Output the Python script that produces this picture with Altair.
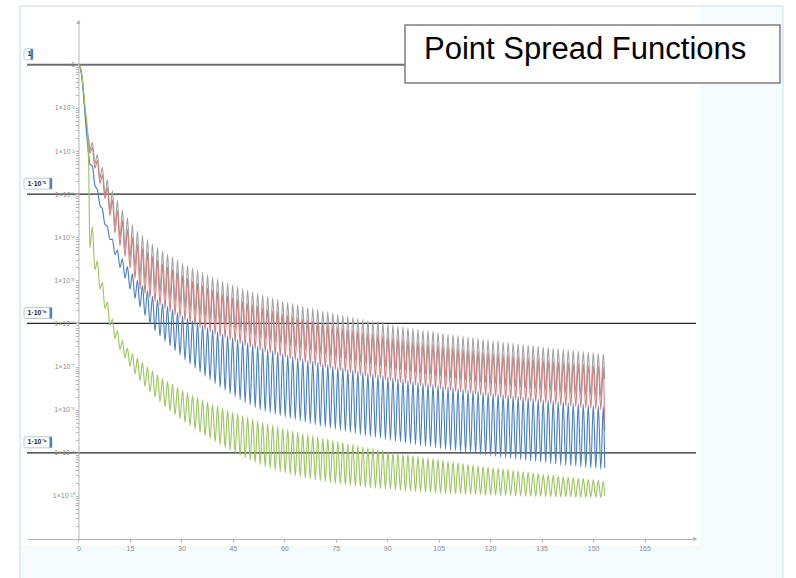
import altair as alt
import pandas as pd

# ---------------------------------------------------------------- data
# Oscillation grid: first side-lobe maximum and the ring spacing (x units)
FIRST_PEAK = 2.6
PERIOD = 1.46
END_X = 153.4

# Main-lobe samples shared by every curve (x), values as log10(intensity)
HEAD_X = [0.0, 0.5, 1.0, 1.5, 2.0, 2.6, 3.0]

GRAY_HEAD = [0.0, -0.06, -0.28, -0.68, -1.15, -1.55, -1.72]
RED_HEAD = [0.0, -0.06, -0.28, -0.68, -1.17, -1.62, -1.82]
BLUE_HEAD = [0.0, -0.06, -0.28, -0.70, -1.22, -1.80, -2.10]
GREEN_HEAD = [0.0, -0.05, -0.24, -0.62, -1.05, -1.50, -2.40]

# log10 minima between rings k and k+1
GRAY_TROUGH = [
    -1.98, -2.29, -2.63, -3.02, -3.39, -3.74, -4.01, -4.26, -4.48, -4.69,
    -4.91, -5.01, -5.11, -5.20, -5.28, -5.36, -5.43, -5.50, -5.56, -5.63,
    -5.69, -5.75, -5.80, -5.85, -5.90, -5.95, -6.00, -6.04, -6.09, -6.13,
    -6.17, -6.21, -6.25, -6.29, -6.32, -6.36, -6.39, -6.43, -6.46, -6.49,
    -6.52, -6.55, -6.58, -6.61, -6.64, -6.67, -6.70, -6.72, -6.75, -6.77,
    -6.80, -6.82, -6.85, -6.87, -6.90, -6.92, -6.94, -6.96, -6.98, -7.01,
    -7.03, -7.05, -7.07, -7.09, -7.11, -7.13, -7.15, -7.17, -7.18, -7.20,
    -7.22, -7.24, -7.26, -7.27, -7.29, -7.31, -7.32, -7.34, -7.36, -7.37,
    -7.39, -7.40, -7.42, -7.44, -7.45, -7.47, -7.48, -7.50, -7.51, -7.52,
    -7.54, -7.55, -7.57, -7.58, -7.60, -7.61, -7.62, -7.63, -7.65, -7.66,
    -7.67, -7.68, -7.70,
]
# log10 maxima of rings 1..103
GRAY_PEAK = [
    -1.80, -2.08, -2.38, -2.66, -2.92, -3.15, -3.37, -3.55, -3.71,
    -3.86, -3.96, -4.06, -4.15, -4.24, -4.32, -4.39, -4.46, -4.53, -4.60,
    -4.66, -4.72, -4.77, -4.82, -4.88, -4.93, -4.97, -5.02, -5.06, -5.11,
    -5.15, -5.19, -5.23, -5.27, -5.30, -5.34, -5.38, -5.41, -5.44, -5.48,
    -5.51, -5.54, -5.57, -5.60, -5.63, -5.65, -5.68, -5.71, -5.73, -5.76,
    -5.79, -5.81, -5.84, -5.86, -5.88, -5.91, -5.93, -5.95, -5.97, -5.99,
    -6.02, -6.04, -6.06, -6.08, -6.10, -6.12, -6.14, -6.16, -6.17, -6.19,
    -6.21, -6.23, -6.25, -6.26, -6.28, -6.30, -6.32, -6.33, -6.35, -6.37,
    -6.38, -6.40, -6.41, -6.43, -6.44, -6.46, -6.47, -6.49, -6.50, -6.52,
    -6.53, -6.55, -6.56, -6.57, -6.59, -6.60, -6.62, -6.63, -6.64, -6.65,
    -6.67, -6.68, -6.69, -6.71,
]

RED_TROUGH = [
    -2.05, -2.40, -2.75, -3.10, -3.50, -3.90, -4.20, -4.45, -4.72, -4.95,
    -5.21, -5.31, -5.41, -5.50, -5.58, -5.66, -5.73, -5.80, -5.86, -5.93,
    -5.99, -6.05, -6.10, -6.15, -6.20, -6.25, -6.30, -6.34, -6.39, -6.43,
    -6.47, -6.51, -6.55, -6.59, -6.62, -6.66, -6.69, -6.73, -6.76, -6.79,
    -6.82, -6.85, -6.88, -6.91, -6.94, -6.97, -7.00, -7.02, -7.05, -7.07,
    -7.10, -7.12, -7.15, -7.17, -7.20, -7.22, -7.24, -7.26, -7.28, -7.31,
    -7.33, -7.35, -7.37, -7.39, -7.41, -7.43, -7.45, -7.47, -7.48, -7.50,
    -7.52, -7.54, -7.56, -7.57, -7.59, -7.61, -7.62, -7.64, -7.66, -7.67,
    -7.69, -7.70, -7.72, -7.74, -7.75, -7.77, -7.78, -7.80, -7.81, -7.82,
    -7.84, -7.85, -7.87, -7.88, -7.90, -7.91, -7.92, -7.93, -7.95, -7.96,
    -7.97, -7.98, -8.00,
]
RED_PEAK = [
    -1.92, -2.22, -2.55, -2.85, -3.13, -3.38, -3.62, -3.82, -4.00,
    -4.16, -4.26, -4.36, -4.45, -4.54, -4.62, -4.69, -4.76, -4.83, -4.90,
    -4.96, -5.02, -5.07, -5.12, -5.18, -5.23, -5.27, -5.32, -5.36, -5.41,
    -5.45, -5.49, -5.53, -5.57, -5.60, -5.64, -5.68, -5.71, -5.74, -5.78,
    -5.81, -5.84, -5.87, -5.90, -5.93, -5.95, -5.98, -6.01, -6.03, -6.06,
    -6.09, -6.11, -6.14, -6.16, -6.18, -6.21, -6.23, -6.25, -6.27, -6.29,
    -6.32, -6.34, -6.36, -6.38, -6.40, -6.42, -6.44, -6.46, -6.47, -6.49,
    -6.51, -6.53, -6.55, -6.56, -6.58, -6.60, -6.62, -6.63, -6.65, -6.67,
    -6.68, -6.70, -6.71, -6.73, -6.74, -6.76, -6.77, -6.79, -6.80, -6.82,
    -6.83, -6.85, -6.86, -6.87, -6.89, -6.90, -6.92, -6.93, -6.94, -6.95,
    -6.97, -6.98, -6.99, -7.01,
]

BLUE_TROUGH = [
    -2.30, -2.80, -3.25, -3.70, -4.05, -4.40, -4.70, -4.95, -5.20, -5.42,
    -5.62, -5.82, -6.02, -6.17, -6.29, -6.41, -6.52, -6.63, -6.73, -6.84,
    -6.94, -7.04, -7.13, -7.22, -7.31, -7.40, -7.48, -7.55, -7.63, -7.70,
    -7.77, -7.83, -7.89, -7.95, -8.00, -8.04, -8.07, -8.11, -8.14, -8.17,
    -8.20, -8.23, -8.26, -8.29, -8.32, -8.35, -8.38, -8.40, -8.43, -8.45,
    -8.48, -8.50, -8.53, -8.55, -8.58, -8.60, -8.62, -8.64, -8.66, -8.69,
    -8.71, -8.73, -8.75, -8.77, -8.79, -8.81, -8.83, -8.85, -8.86, -8.88,
    -8.90, -8.92, -8.94, -8.95, -8.97, -8.99, -9.00, -9.02, -9.04, -9.05,
    -9.07, -9.08, -9.10, -9.12, -9.13, -9.15, -9.16, -9.18, -9.19, -9.20,
    -9.22, -9.23, -9.25, -9.26, -9.28, -9.29, -9.30, -9.31, -9.33, -9.34,
    -9.35, -9.36, -9.38,
]
BLUE_PEAK = [
    -2.35, -2.90, -3.35, -3.75, -4.05, -4.30, -4.50, -4.68, -4.85,
    -5.00, -5.12, -5.24, -5.37, -5.46, -5.54, -5.61, -5.68, -5.75, -5.82,
    -5.88, -5.94, -5.99, -6.04, -6.10, -6.15, -6.19, -6.24, -6.28, -6.33,
    -6.37, -6.41, -6.45, -6.49, -6.52, -6.56, -6.60, -6.63, -6.66, -6.70,
    -6.73, -6.76, -6.79, -6.82, -6.85, -6.87, -6.90, -6.93, -6.95, -6.98,
    -7.01, -7.03, -7.06, -7.08, -7.10, -7.13, -7.15, -7.17, -7.19, -7.21,
    -7.24, -7.26, -7.28, -7.30, -7.32, -7.34, -7.36, -7.38, -7.39, -7.41,
    -7.43, -7.45, -7.47, -7.48, -7.50, -7.52, -7.54, -7.55, -7.57, -7.59,
    -7.60, -7.62, -7.63, -7.65, -7.66, -7.68, -7.69, -7.71, -7.72, -7.74,
    -7.75, -7.77, -7.78, -7.79, -7.81, -7.82, -7.84, -7.85, -7.86, -7.87,
    -7.89, -7.90, -7.91, -7.93,
]

GREEN_TROUGH = [
    -4.25, -4.75, -5.20, -5.65, -6.05, -6.35, -6.60, -6.80, -7.00, -7.17,
    -7.32, -7.46, -7.59, -7.71, -7.82, -7.93, -8.03, -8.12, -8.21, -8.29,
    -8.37, -8.45, -8.53, -8.60, -8.67, -8.74, -8.81, -8.88, -8.94, -9.00,
    -9.06, -9.12, -9.17, -9.22, -9.27, -9.32, -9.36, -9.40, -9.44, -9.47,
    -9.50, -9.53, -9.56, -9.59, -9.61, -9.63, -9.65, -9.67, -9.69, -9.71,
    -9.73, -9.74, -9.76, -9.77, -9.78, -9.80, -9.81, -9.82, -9.83, -9.84,
    -9.85, -9.86, -9.87, -9.88, -9.89, -9.90, -9.90, -9.91, -9.92, -9.93,
    -9.93, -9.94, -9.94, -9.95, -9.95, -9.96, -9.96, -9.97, -9.97, -9.98,
    -9.98, -9.98, -9.99, -9.99, -9.99, -10.00, -10.00, -10.00, -10.01, -10.01,
    -10.01, -10.01, -10.02, -10.02, -10.02, -10.02, -10.02, -10.03, -10.03, -10.03,
    -10.03, -10.03, -10.04,
]
GREEN_PEAK = [
    -3.76, -4.55, -5.05, -5.50, -5.90, -6.17, -6.40, -6.57, -6.70,
    -6.81, -6.91, -7.01, -7.10, -7.19, -7.27, -7.34, -7.41, -7.48, -7.55,
    -7.61, -7.67, -7.72, -7.77, -7.83, -7.88, -7.92, -7.97, -8.01, -8.06,
    -8.10, -8.14, -8.18, -8.22, -8.25, -8.29, -8.33, -8.36, -8.39, -8.43,
    -8.46, -8.49, -8.52, -8.55, -8.58, -8.60, -8.63, -8.66, -8.68, -8.71,
    -8.74, -8.76, -8.79, -8.81, -8.83, -8.86, -8.88, -8.90, -8.92, -8.94,
    -8.97, -8.99, -9.01, -9.03, -9.05, -9.07, -9.09, -9.11, -9.12, -9.14,
    -9.16, -9.18, -9.20, -9.21, -9.23, -9.25, -9.27, -9.28, -9.30, -9.32,
    -9.33, -9.35, -9.36, -9.38, -9.39, -9.41, -9.42, -9.44, -9.45, -9.47,
    -9.48, -9.50, -9.51, -9.52, -9.54, -9.55, -9.57, -9.58, -9.59, -9.60,
    -9.62, -9.63, -9.64, -9.66,
]

# log10 value where each trace is cut off at END_X
GRAY_END, RED_END, BLUE_END, GREEN_END = -7.30, -8.50, -9.35, -10.00

# Reference levels and their tags
LEVELS = [1.0, 1e-3, 1e-6, 1e-9]
LEVEL_LABELS = ["1", "1·10⁻³", "1·10⁻⁶", "1·10⁻⁹"]

X_TICKS = [0, 15, 30, 45, 60, 75, 90, 105, 120, 135, 150, 165]
DECADE_LABELS = ["1", "1×10⁻¹", "1×10⁻²", "1×10⁻³", "1×10⁻⁴", "1×10⁻⁵",
                 "1×10⁻⁶", "1×10⁻⁷", "1×10⁻⁸", "1×10⁻⁹", "1×10⁻¹⁰"]

TITLE = "Point Spread Functions"

# ---------------------------------------------------------------- layout
W, H = 669, 519
X_DOMAIN = [-15, 180]
Y_DOMAIN = [1e-11, 10 ** 1.04]
X_ZERO_PX = W * (0 - X_DOMAIN[0]) / (X_DOMAIN[1] - X_DOMAIN[0])

FONT = "Liberation Sans"
AXIS_GREY = "#b4b4b4"

x_scale = alt.Scale(domain=X_DOMAIN, nice=False, zero=False)
y_scale = alt.Scale(type="log", domain=Y_DOMAIN, nice=False)

Y_TICKS = [m * 10.0 ** e for e in range(-11, 0) for m in range(1, 10)] + [1.0]
exp_ = "round(log(datum.value)/LN10)"
label_array = "[" + ",".join(f"'{s}'" for s in DECADE_LABELS) + "]"
y_label_expr = (
    f"(abs(log(datum.value)/LN10 - {exp_}) < 0.001 && {exp_} >= -10) "
    f"? {label_array}[-{exp_}] : ''"
)

X_AXIS = alt.Axis(
    values=X_TICKS, title=None, grid=False, zindex=1,
    domainColor=AXIS_GREY, domainWidth=1, tickColor=AXIS_GREY, tickSize=3,
    labelFont=FONT, labelFontSize=7, labelColor="#8c8c8c", labelPadding=2,
    labelFlush=False, labelOverlap=False,
)
Y_AXIS = alt.Axis(
    values=Y_TICKS, title=None, grid=False, zindex=1, offset=-X_ZERO_PX,
    domainColor=AXIS_GREY, domainWidth=1, tickColor=AXIS_GREY, tickSize=3,
    labelExpr=y_label_expr, labelFont=FONT, labelFontSize=7,
    labelColor="#8c8c8c", labelPadding=1, labelFlush=False, labelOverlap=False,
)


def trace(head, troughs, peaks, end):
    xs, logs = list(HEAD_X), list(head)
    for k, (lo, hi) in enumerate(zip(troughs, peaks)):
        xs.append(FIRST_PEAK + PERIOD * k + PERIOD / 2)
        logs.append(lo)
        xs.append(FIRST_PEAK + PERIOD * (k + 1))
        logs.append(hi)
    xs.append(END_X)
    logs.append(end)
    return pd.DataFrame({"x": xs, "v": [10.0 ** v for v in logs]})


curves = [
    (trace(GRAY_HEAD, GRAY_TROUGH, GRAY_PEAK, GRAY_END), "#a2a2a2"),
    (trace(RED_HEAD, RED_TROUGH, RED_PEAK, RED_END), "#d07f7f"),
    (trace(BLUE_HEAD, BLUE_TROUGH, BLUE_PEAK, BLUE_END), "#4a80c0"),
    (trace(GREEN_HEAD, GREEN_TROUGH, GREEN_PEAK, GREEN_END), "#9cc55f"),
]

layers = []

# panel background
layers.append(
    alt.Chart(pd.DataFrame({"a": [0]})).mark_rect(
        fill="#f5fbfd", stroke="#c8dde8", strokeWidth=1
    ).encode(x=alt.value(-7), x2=alt.value(756), y=alt.value(-14), y2=alt.value(575))
)
layers.append(
    alt.Chart(pd.DataFrame({"a": [0]})).mark_rect(fill="white").encode(
        x=alt.value(-6), x2=alt.value(673), y=alt.value(-13), y2=alt.value(526)
    )
)

# reference levels
lvl = pd.DataFrame({"level": LEVELS, "text": LEVEL_LABELS})
layers.append(
    alt.Chart(lvl.iloc[:1]).mark_rule(color="#6e6e6e", strokeWidth=2).encode(
        y=alt.Y("level:Q", scale=y_scale, axis=Y_AXIS), x=alt.value(0), x2=alt.value(W)
    )
)
layers.append(
    alt.Chart(lvl.iloc[1:]).mark_rule(color="#262626", strokeWidth=1.3).encode(
        y=alt.Y("level:Q", scale=y_scale, axis=Y_AXIS), x=alt.value(0), x2=alt.value(W)
    )
)

# the four point spread functions
for df, color in curves:
    layers.append(
        alt.Chart(df).mark_line(
            color=color, strokeWidth=1.15, interpolate="monotone"
        ).encode(
            x=alt.X("x:Q", scale=x_scale, axis=X_AXIS),
            y=alt.Y("v:Q", scale=y_scale, axis=Y_AXIS),
        )
    )

# level tags
for part, x_right in ((lvl.iloc[:1], 6), (lvl.iloc[1:], 25)):
    y_enc = alt.Y("level:Q", scale=y_scale, axis=Y_AXIS)
    layers.append(
        alt.Chart(part).mark_rect(
            fill="white", stroke="#a8bccb", strokeWidth=0.8, cornerRadius=2,
            yOffset=-16, y2Offset=-5,
        ).encode(x=alt.value(-3), x2=alt.value(x_right), y=y_enc, y2="level:Q")
    )
    layers.append(
        alt.Chart(part).mark_rect(fill="#4f81bd", yOffset=-16, y2Offset=-5).encode(
            x=alt.value(x_right - 2.5), x2=alt.value(x_right), y=y_enc, y2="level:Q"
        )
    )
    layers.append(
        alt.Chart(part).mark_text(
            align="left", baseline="middle", dy=-10.5, font=FONT, fontSize=7,
            fontWeight="bold", color="#2a2a2a",
        ).encode(x=alt.value(0.5), y=y_enc, text="text:N")
    )

# axis arrowheads
layers.append(
    alt.Chart(pd.DataFrame({"a": [0]})).mark_point(
        shape="triangle-up", filled=True, size=16, color="#999999", opacity=1
    ).encode(x=alt.value(X_ZERO_PX), y=alt.value(2))
)
layers.append(
    alt.Chart(pd.DataFrame({"a": [0]})).mark_point(
        shape="triangle-right", filled=True, size=16, color="#999999", opacity=1
    ).encode(x=alt.value(W - 1), y=alt.value(H))
)

# title box
layers.append(
    alt.Chart(pd.DataFrame({"a": [0]})).mark_rect(
        fill="white", stroke="#7f7f7f", strokeWidth=1.5
    ).encode(x=alt.value(378), x2=alt.value(753), y=alt.value(5), y2=alt.value(63))
)
layers.append(
    alt.Chart(pd.DataFrame({"t": [TITLE]})).mark_text(
        align="left", baseline="alphabetic", font=FONT, fontSize=31, color="#000000"
    ).encode(x=alt.value(397), y=alt.value(39), text="t:N")
)

chart = (
    alt.layer(*layers)
    .properties(
        width=W,
        height=H,
        padding={"left": 27, "top": 20, "right": 100, "bottom": 39},
        autosize=alt.AutoSizeParams(type="none"),
        background="white",
    )
    .configure_view(stroke=None)
)

chart.save("out.html", embed_options={"renderer": "svg", "actions": False})
